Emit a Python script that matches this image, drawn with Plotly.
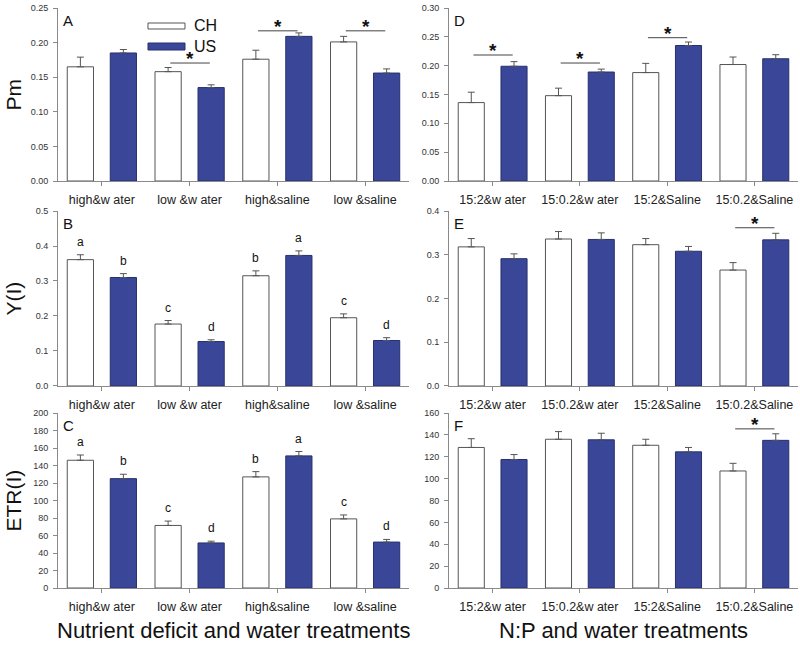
import plotly.graph_objects as go

# ---------------- data ----------------
cats_left = ["high&w ater", "low &w ater", "high&saline", "low &saline"]
cats_right = ["15:2&w ater", "15:0.2&w ater", "15:2&Saline", "15:0.2&Saline"]

# Panel A: Pm (nutrient deficit)
a_ch = [0.165, 0.158, 0.176, 0.201]
a_ch_err = [0.014, 0.006, 0.013, 0.008]
a_us = [0.185, 0.135, 0.209, 0.156]
a_us_err = [0.005, 0.004, 0.005, 0.006]

# Panel B: Y(I) (nutrient deficit)
b_ch = [0.361, 0.177, 0.315, 0.195]
b_ch_err = [0.014, 0.010, 0.014, 0.011]
b_us = [0.310, 0.127, 0.373, 0.130]
b_us_err = [0.011, 0.005, 0.013, 0.008]
b_ch_letters = ["a", "c", "b", "c"]
b_us_letters = ["b", "d", "a", "d"]

# Panel C: ETR(I) (nutrient deficit)
c_ch = [146, 71.5, 127, 79]
c_ch_err = [6, 5, 6, 4.5]
c_us = [125, 51.5, 151, 52.5]
c_us_err = [5, 2, 5, 3]
c_ch_letters = ["a", "c", "b", "c"]
c_us_letters = ["b", "d", "a", "d"]

# Panel D: Pm (N:P)
d_ch = [0.136, 0.148, 0.188, 0.202]
d_ch_err = [0.018, 0.013, 0.016, 0.013]
d_us = [0.199, 0.189, 0.235, 0.212]
d_us_err = [0.008, 0.005, 0.006, 0.007]

# Panel E: Y(I) (N:P)
e_ch = [0.318, 0.336, 0.323, 0.265]
e_ch_err = [0.019, 0.017, 0.014, 0.017]
e_us = [0.291, 0.335, 0.308, 0.334]
e_us_err = [0.011, 0.015, 0.011, 0.015]

# Panel F: ETR(I) (N:P)
f_ch = [128.5, 136, 130.5, 107]
f_ch_err = [8, 7, 5.5, 7]
f_us = [117.5, 135.5, 124.5, 135]
f_us_err = [4.5, 6, 4, 6]

# significance markers: group index and bracket level
sig_a_groups = [1, 2, 3]
sig_a_levels = [0.1705, 0.217, 0.217]
sig_d_groups = [0, 1, 2]
sig_d_levels = [0.2185, 0.2046, 0.2485]
sig_e_groups = [3]
sig_e_levels = [0.3617]
sig_f_groups = [3]
sig_f_levels = [145.5]

# ---------------- style ----------------
FONT = "Arial, Liberation Sans, sans-serif"
NAVY = "#3a4799"
NAVY_EDGE = "#27306e"
CH_EDGE = "#555555"
AXIS = "#8a8a8a"
TXT = "#222222"

col_dom = [[0.0, 0.4743], [0.5284, 1.0]]
row_dom = [[0.7017, 1.0], [0.3483, 0.65], [0.0, 0.3017]]

panels = [
    dict(n=1, row=0, col=0, cats=cats_left, ch=a_ch, che=a_ch_err, us=a_us, use=a_us_err,
         rng=[0, 0.25], dtick=0.05, fmt=".2f", letter="A", title="Pm",
         sig_g=sig_a_groups, sig_y=sig_a_levels),
    dict(n=2, row=0, col=1, cats=cats_right, ch=d_ch, che=d_ch_err, us=d_us, use=d_us_err,
         rng=[0, 0.30], dtick=0.05, fmt=".2f", letter="D", title=None,
         sig_g=sig_d_groups, sig_y=sig_d_levels),
    dict(n=3, row=1, col=0, cats=cats_left, ch=b_ch, che=b_ch_err, us=b_us, use=b_us_err,
         rng=[0, 0.5], dtick=0.1, fmt=".1f", letter="B", title="Y(I)",
         lch=b_ch_letters, lus=b_us_letters),
    dict(n=4, row=1, col=1, cats=cats_right, ch=e_ch, che=e_ch_err, us=e_us, use=e_us_err,
         rng=[0, 0.4], dtick=0.1, fmt=".1f", letter="E", title=None,
         sig_g=sig_e_groups, sig_y=sig_e_levels),
    dict(n=5, row=2, col=0, cats=cats_left, ch=c_ch, che=c_ch_err, us=c_us, use=c_us_err,
         rng=[0, 200], dtick=20, fmt="d", letter="C", title="ETR(I)",
         lch=c_ch_letters, lus=c_us_letters),
    dict(n=6, row=2, col=1, cats=cats_right, ch=f_ch, che=f_ch_err, us=f_us, use=f_us_err,
         rng=[0, 160], dtick=20, fmt="d", letter="F", title=None,
         sig_g=sig_f_groups, sig_y=sig_f_levels),
]

fig = go.Figure()
shapes = []
annotations = []
layout = {}

for p in panels:
    n = p["n"]
    xs = "x" if n == 1 else f"x{n}"
    ys = "y" if n == 1 else f"y{n}"
    xkey = "xaxis" if n == 1 else f"xaxis{n}"
    ykey = "yaxis" if n == 1 else f"yaxis{n}"

    for name, vals, errs, fill, edge in [("CH", p["ch"], p["che"], "white", CH_EDGE),
                                         ("US", p["us"], p["use"], NAVY, NAVY_EDGE)]:
        fig.add_trace(go.Bar(
            x=p["cats"], y=vals, name=name, xaxis=xs, yaxis=ys,
            marker=dict(color=fill, line=dict(color=edge, width=1)),
            error_y=dict(type="data", array=errs, arrayminus=[0] * len(errs),
                         symmetric=False, color="#555555", thickness=1, width=3.5),
            showlegend=False,
        ))

    layout[xkey] = dict(
        domain=col_dom[p["col"]], anchor=ys, type="category",
        range=[-0.5, 3.5], showline=True, linecolor=AXIS, linewidth=1,
        ticks="outside", ticklen=4, tickcolor=AXIS, showgrid=False, zeroline=False,
        tickfont=dict(family=FONT, size=12.5, color=TXT), ticklabelstandoff=3,
    )
    layout[ykey] = dict(
        domain=row_dom[p["row"]], anchor=xs, range=p["rng"], dtick=p["dtick"],
        tick0=0, tickformat=p["fmt"], showline=True, linecolor=AXIS, linewidth=1,
        ticks="outside", ticklen=4, tickcolor=AXIS, showgrid=False, zeroline=False,
        tickfont=dict(family=FONT, size=9, color="#333333"), ticklabelstandoff=3,
    )

    # panel letter
    annotations.append(dict(text=p["letter"], xref=f"{xs} domain", yref=f"{ys} domain",
                            x=0, y=1, xanchor="left", yanchor="top", xshift=3, yshift=-2,
                            showarrow=False, font=dict(family=FONT, size=15, color="#111111")))

    # y title
    if p["title"]:
        annotations.append(dict(text=p["title"], xref="paper", yref=f"{ys} domain",
                                x=-0.0608, y=0.5, xanchor="center", yanchor="middle",
                                textangle=-90, showarrow=False,
                                font=dict(family=FONT, size=21, color="#111111")))

    # significance brackets
    for g, lvl in zip(p.get("sig_g", []), p.get("sig_y", [])):
        shapes.append(dict(type="line", xref=xs, yref=ys, x0=g - 0.22, x1=g + 0.23,
                           y0=lvl, y1=lvl, line=dict(color="#444444", width=1)))
        annotations.append(dict(text="<b>*</b>", xref=xs, yref=ys, x=g + 0.005, y=lvl,
                                xanchor="center", yanchor="bottom", yshift=-8,
                                showarrow=False, font=dict(family=FONT, size=19, color="#111111")))

    # letters above bars
    if "lch" in p:
        for i, (lc, lu) in enumerate(zip(p["lch"], p["lus"])):
            for off, lab, v, e in [(-0.245, lc, p["ch"][i], p["che"][i]),
                                   (0.245, lu, p["us"][i], p["use"][i])]:
                annotations.append(dict(text=lab, xref=xs, yref=ys, x=i + off, y=v + e,
                                        xanchor="center", yanchor="bottom", yshift=4,
                                        showarrow=False,
                                        font=dict(family=FONT, size=12, color="#111111")))

# legend drawn inside panel A
shapes.append(dict(type="rect", xref="x domain", yref="y domain", x0=0.2564, x1=0.3618,
                   y0=0.8786, y1=0.9133, fillcolor="white", line=dict(color=CH_EDGE, width=1)))
shapes.append(dict(type="rect", xref="x domain", yref="y domain", x0=0.2564, x1=0.3618,
                   y0=0.7572, y1=0.7977, fillcolor=NAVY, line=dict(color=NAVY_EDGE, width=1)))
annotations.append(dict(text="CH", xref="x domain", yref="y domain", x=0.383, y=0.896,
                        xanchor="left", yanchor="middle", showarrow=False,
                        font=dict(family=FONT, size=16, color="#111111")))
annotations.append(dict(text="US", xref="x domain", yref="y domain", x=0.383, y=0.775,
                        xanchor="left", yanchor="middle", showarrow=False,
                        font=dict(family=FONT, size=16, color="#111111")))

# bottom titles
annotations.append(dict(text="Nutrient deficit and water treatments", xref="x5 domain",
                        yref="paper", x=0.5, y=-0.074, xanchor="center", yanchor="middle",
                        showarrow=False, font=dict(family=FONT, size=22, color="#111111")))
annotations.append(dict(text="N:P and water treatments", xref="x6 domain",
                        yref="paper", x=0.5, y=-0.074, xanchor="center", yanchor="middle",
                        showarrow=False, font=dict(family=FONT, size=22, color="#111111")))

fig.update_layout(
    width=800, height=648,
    margin=dict(l=58, r=2, t=8, b=60),
    paper_bgcolor="white", plot_bgcolor="white",
    barmode="group", bargap=0.02, bargroupgap=0.39,
    showlegend=False,
    shapes=shapes, annotations=annotations,
    font=dict(family=FONT),
    **layout,
)

fig.write_html("out.html")
